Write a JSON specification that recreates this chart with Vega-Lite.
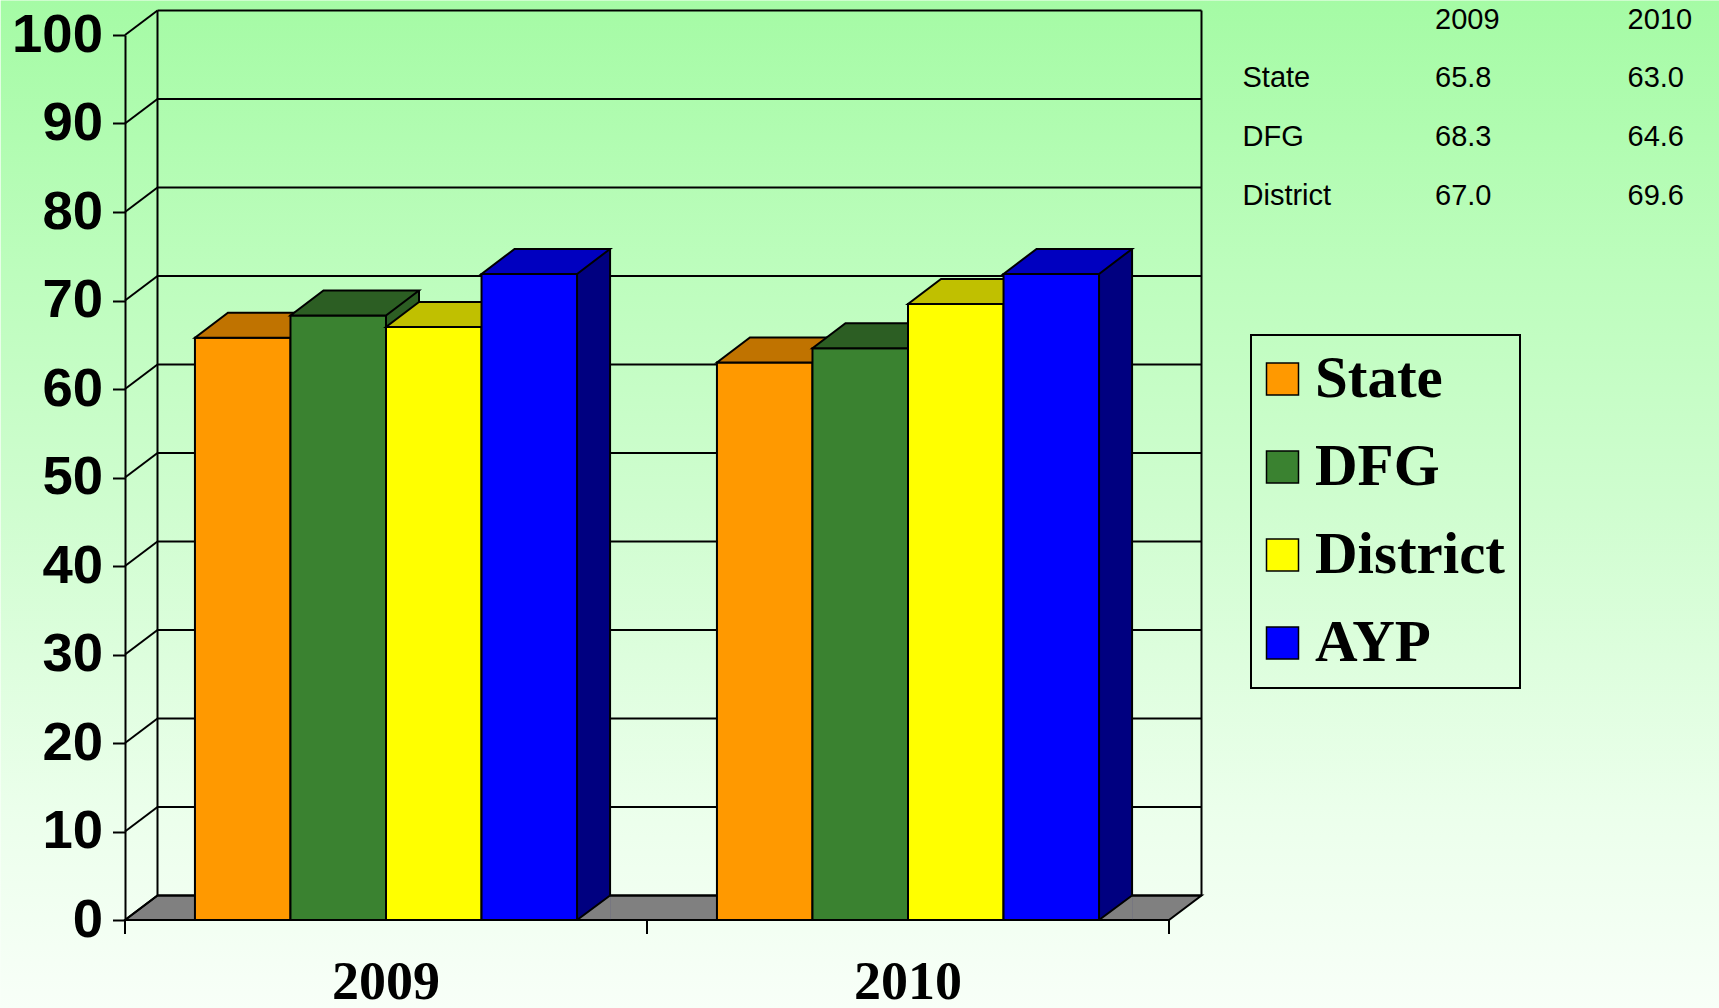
{
  "$schema": "https://vega.github.io/schema/vega-lite/v6.json",
  "padding": 0,
  "background": "#f8fff8",
  "bounds": "flush",
  "spacing": 73.5,
  "datasets": {
    "scores": [
      {"cat": "State", "year": "2009", "value": 65.8},
      {"cat": "State", "year": "2010", "value": 63.0},
      {"cat": "DFG", "year": "2009", "value": 68.3},
      {"cat": "DFG", "year": "2010", "value": 64.6},
      {"cat": "District", "year": "2009", "value": 67.0},
      {"cat": "District", "year": "2010", "value": 69.6},
      {"cat": "AYP", "year": "2009", "value": 73.0},
      {"cat": "AYP", "year": "2010", "value": 73.0}
    ],
    "ticks": [
      {"v": 0}, {"v": 10}, {"v": 20}, {"v": 30}, {"v": 40}, {"v": 50},
      {"v": 60}, {"v": 70}, {"v": 80}, {"v": 90}, {"v": 100}
    ]
  },
  "config": {
    "view": {"stroke": null},
    "axis": {"zindex": 1, "grid": false, "domainColor": "black", "domainWidth": 2, "tickColor": "black", "tickWidth": 2, "labelColor": "black"},
    "axisY": {"labelFont": "Liberation Sans", "labelFontSize": 54.5, "labelFontWeight": "bold", "tickSize": 12.5, "labelPadding": 10},
    "legend": {
      "orient": "none", "legendX": 1126, "legendY": 300, "zindex": 1,
      "symbolType": "square", "symbolSize": 1024, "symbolStrokeColor": "black", "symbolStrokeWidth": 1.5, "symbolOpacity": 1, "symbolOffset": -12.5,
      "labelFont": "Liberation Serif", "labelFontSize": 59, "labelFontWeight": "bold", "labelColor": "black", "labelOffset": 3, "labelLimit": 500,
      "rowPadding": 28, "padding": 14.5, "strokeColor": "black", "strokeWidth": 2
    }
  },
  "hconcat": [
    {
      "width": 1044,
      "height": 885,
      "resolve": {"scale": {"x": "independent"}, "axis": {"x": "independent"}},
      "layer": [
        {
          "layer": [
            {
              "data": {"values": [{}]},
              "mark": {"type": "rect", "strokeWidth": 0, "fill": {"gradient": "linear", "x1": 0, "y1": 0, "x2": 0, "y2": 1, "stops": [
                {"offset": 0, "color": "#A5FBA5"},
                {"offset": 0.27, "color": "#BDFDBD"},
                {"offset": 0.5, "color": "#CFFDCF"},
                {"offset": 0.8, "color": "#EBFFEB"},
                {"offset": 1, "color": "#F8FFF8"}
              ]}},
              "encoding": {
                "x": {"datum": -11.906, "type": "quantitative", "scale": {"domain": [0, 100], "nice": false}, "axis": null},
                "x2": {"datum": 152.75},
                "y": {"datum": 103.9, "type": "quantitative", "scale": {"domain": [0, 100], "nice": false}, "title": null, "axis": {"values": [0, 10, 20, 30, 40, 50, 60, 70, 80, 90, 100], "zindex": 1}},
                "y2": {"datum": -10}
              }
            },
            {
              "data": {"values": [{}]},
              "mark": {"type": "point", "shape": "M0,0L1044,0L1076.5,-24.5L32.5,-24.5Z", "size": 4, "filled": true, "fill": "#808080", "stroke": "black", "strokeWidth": 2, "opacity": 1},
              "encoding": {
                "x": {"datum": 0, "type": "quantitative", "scale": {"domain": [0, 100], "nice": false}, "axis": null},
                "y": {"datum": 0, "type": "quantitative", "scale": {"domain": [0, 100], "nice": false}, "title": null}
              }
            },
            {
              "data": {"name": "ticks"},
              "mark": {"type": "rule", "color": "black", "strokeWidth": 2, "xOffset": 32.5, "x2Offset": 32.5, "yOffset": -24.5},
              "encoding": {
                "x": {"datum": 0, "type": "quantitative", "scale": {"domain": [0, 100], "nice": false}, "axis": null},
                "x2": {"datum": 100},
                "y": {"field": "v", "type": "quantitative", "scale": {"domain": [0, 100], "nice": false}, "title": null}
              }
            },
            {
              "data": {"name": "ticks"},
              "mark": {"type": "rule", "color": "black", "strokeWidth": 2, "x2Offset": 32.5, "y2Offset": -24.5},
              "encoding": {
                "x": {"datum": 0, "type": "quantitative", "scale": {"domain": [0, 100], "nice": false}, "axis": null},
                "x2": {"datum": 0},
                "y": {"field": "v", "type": "quantitative", "scale": {"domain": [0, 100], "nice": false}, "title": null},
                "y2": {"field": "v"}
              }
            },
            {
              "data": {"name": "ticks"},
              "transform": [{"filter": "datum.v % 50 == 0"}],
              "mark": {"type": "rule", "color": "black", "strokeWidth": 2, "y2Offset": 14},
              "encoding": {
                "x": {"field": "v", "type": "quantitative", "scale": {"domain": [0, 100], "nice": false}, "axis": null},
                "y": {"datum": 0, "type": "quantitative", "scale": {"domain": [0, 100], "nice": false}, "title": null},
                "y2": {"datum": 0}
              }
            },
            {
              "data": {"values": [{}]},
              "mark": {"type": "rule", "color": "black", "strokeWidth": 2, "xOffset": 32.5, "yOffset": -24.5, "y2Offset": -24.5},
              "encoding": {
                "x": {"datum": 0, "type": "quantitative", "scale": {"domain": [0, 100], "nice": false}, "axis": null},
                "y": {"datum": 0, "type": "quantitative", "scale": {"domain": [0, 100], "nice": false}, "title": null},
                "y2": {"datum": 100}
              }
            },
            {
              "data": {"values": [{}]},
              "mark": {"type": "rule", "color": "black", "strokeWidth": 2, "xOffset": 32.5, "yOffset": -24.5, "y2Offset": -24.5},
              "encoding": {
                "x": {"datum": 100, "type": "quantitative", "scale": {"domain": [0, 100], "nice": false}, "axis": null},
                "y": {"datum": 0, "type": "quantitative", "scale": {"domain": [0, 100], "nice": false}, "title": null},
                "y2": {"datum": 100}
              }
            }
          ]
        },
        {
          "data": {"name": "scores"},
          "encoding": {
            "x": {"field": "year", "type": "nominal", "title": null, "sort": ["2009", "2010"],
              "scale": {"paddingInner": 0.268, "paddingOuter": 0.134},
              "axis": {"zindex": 1, "domain": false, "ticks": false, "labelAngle": 0, "labelFont": "Liberation Serif", "labelFontSize": 54, "labelFontWeight": "bold", "labelBaseline": "middle", "labelPadding": 62.5}},
            "y": {"field": "value", "type": "quantitative", "title": null, "scale": {"domain": [0, 100], "nice": false}}
          },
          "layer": [
            {
              "transform": [{"filter": "datum.cat == 'State'"}],
              "layer": [
                {"mark": {"type": "rule", "color": "#804C00", "strokeWidth": 33, "strokeCap": "butt", "xOffset": -79.02, "yOffset": -25}, "encoding": {"y2": {"datum": 0}}},
                {"mark": {"type": "rule", "color": "black", "strokeWidth": 2, "xOffset": -62.52, "yOffset": -25, "y2Offset": -25}, "encoding": {"y2": {"datum": 0}}},
                {"mark": {"type": "bar", "stroke": "black", "strokeWidth": 2}, "encoding": {
                  "xOffset": {"field": "cat", "type": "nominal", "scale": {"domain": ["State", "DFG", "District", "AYP"], "paddingInner": 0, "paddingOuter": 0}},
                  "color": {"field": "cat", "type": "nominal", "title": null, "scale": {"domain": ["State", "DFG", "District", "AYP"], "range": ["#FF9900", "#3A8230", "#FFFF00", "#0000FF"]}}}},
                {"mark": {"type": "point", "shape": "M-47.75,0L47.75,0L80.75,-25L-14.75,-25Z", "size": 4, "filled": true, "fill": "#C07300", "stroke": "black", "strokeWidth": 2, "opacity": 1}, "encoding": {
                  "xOffset": {"field": "cat", "type": "nominal", "scale": {"domain": ["State", "DFG", "District", "AYP"], "paddingInner": 0, "paddingOuter": 0}}}}
              ]
            },
            {
              "transform": [{"filter": "datum.cat == 'DFG'"}],
              "layer": [
                {"mark": {"type": "rule", "color": "#2C5E23", "strokeWidth": 33, "strokeCap": "butt", "xOffset": 16.5, "yOffset": -25}, "encoding": {"y2": {"datum": 0}}},
                {"mark": {"type": "rule", "color": "black", "strokeWidth": 2, "xOffset": 33, "yOffset": -25, "y2Offset": -25}, "encoding": {"y2": {"datum": 0}}},
                {"mark": {"type": "bar", "stroke": "black", "strokeWidth": 2}, "encoding": {
                  "xOffset": {"field": "cat", "type": "nominal", "scale": {"domain": ["State", "DFG", "District", "AYP"], "paddingInner": 0, "paddingOuter": 0}},
                  "color": {"field": "cat", "type": "nominal", "title": null, "scale": {"domain": ["State", "DFG", "District", "AYP"], "range": ["#FF9900", "#3A8230", "#FFFF00", "#0000FF"]}}}},
                {"mark": {"type": "point", "shape": "M-47.75,0L47.75,0L80.75,-25L-14.75,-25Z", "size": 4, "filled": true, "fill": "#2C5E23", "stroke": "black", "strokeWidth": 2, "opacity": 1}, "encoding": {
                  "xOffset": {"field": "cat", "type": "nominal", "scale": {"domain": ["State", "DFG", "District", "AYP"], "paddingInner": 0, "paddingOuter": 0}}}}
              ]
            },
            {
              "transform": [{"filter": "datum.cat == 'District'"}],
              "layer": [
                {"mark": {"type": "rule", "color": "#808000", "strokeWidth": 33, "strokeCap": "butt", "xOffset": 112.04, "yOffset": -25}, "encoding": {"y2": {"datum": 0}}},
                {"mark": {"type": "rule", "color": "black", "strokeWidth": 2, "xOffset": 128.54, "yOffset": -25, "y2Offset": -25}, "encoding": {"y2": {"datum": 0}}},
                {"mark": {"type": "bar", "stroke": "black", "strokeWidth": 2}, "encoding": {
                  "xOffset": {"field": "cat", "type": "nominal", "scale": {"domain": ["State", "DFG", "District", "AYP"], "paddingInner": 0, "paddingOuter": 0}},
                  "color": {"field": "cat", "type": "nominal", "title": null, "scale": {"domain": ["State", "DFG", "District", "AYP"], "range": ["#FF9900", "#3A8230", "#FFFF00", "#0000FF"]}}}},
                {"mark": {"type": "point", "shape": "M-47.75,0L47.75,0L80.75,-25L-14.75,-25Z", "size": 4, "filled": true, "fill": "#C0C000", "stroke": "black", "strokeWidth": 2, "opacity": 1}, "encoding": {
                  "xOffset": {"field": "cat", "type": "nominal", "scale": {"domain": ["State", "DFG", "District", "AYP"], "paddingInner": 0, "paddingOuter": 0}}}}
              ]
            },
            {
              "transform": [{"filter": "datum.cat == 'AYP'"}],
              "layer": [
                {"mark": {"type": "rule", "color": "#000080", "strokeWidth": 33, "strokeCap": "butt", "xOffset": 207.57, "yOffset": -25}, "encoding": {"y2": {"datum": 0}}},
                {"mark": {"type": "rule", "color": "black", "strokeWidth": 2, "xOffset": 224.07, "yOffset": -25, "y2Offset": -25}, "encoding": {"y2": {"datum": 0}}},
                {"mark": {"type": "point", "shape": "M80.75,0L47.75,0L80.75,-24.5", "size": 4, "filled": true, "fill": "#808080", "stroke": "black", "strokeWidth": 2, "opacity": 1}, "encoding": {
                  "xOffset": {"field": "cat", "type": "nominal", "scale": {"domain": ["State", "DFG", "District", "AYP"], "paddingInner": 0, "paddingOuter": 0}},
                  "y": {"datum": 0, "type": "quantitative", "scale": {"domain": [0, 100], "nice": false}, "title": null}}},
                {"mark": {"type": "bar", "stroke": "black", "strokeWidth": 2}, "encoding": {
                  "xOffset": {"field": "cat", "type": "nominal", "scale": {"domain": ["State", "DFG", "District", "AYP"], "paddingInner": 0, "paddingOuter": 0}},
                  "color": {"field": "cat", "type": "nominal", "title": null, "scale": {"domain": ["State", "DFG", "District", "AYP"], "range": ["#FF9900", "#3A8230", "#FFFF00", "#0000FF"]}}}},
                {"mark": {"type": "point", "shape": "M-47.75,0L47.75,0L80.75,-25L-14.75,-25Z", "size": 4, "filled": true, "fill": "#0000C0", "stroke": "black", "strokeWidth": 2, "opacity": 1}, "encoding": {
                  "xOffset": {"field": "cat", "type": "nominal", "scale": {"domain": ["State", "DFG", "District", "AYP"], "paddingInner": 0, "paddingOuter": 0}}}}
              ]
            }
          ]
        }
      ]
    },
    {
      "width": 385,
      "height": 176,
      "data": {"name": "scores"},
      "transform": [{"filter": "datum.cat != 'AYP'"}],
      "encoding": {
        "x": {"field": "year", "type": "nominal", "scale": {"type": "point", "domain": [" ", "2009", "2010"], "padding": 0}, "axis": null},
        "y": {"field": "cat", "type": "nominal", "scale": {"type": "point", "domain": ["_", "State", "DFG", "District"], "padding": 0}, "axis": null}
      },
      "layer": [
        {
          "mark": {"type": "text", "align": "left", "baseline": "middle", "font": "Liberation Sans", "fontSize": 29, "yOffset": -15.5, "color": "black"},
          "encoding": {"text": {"field": "value", "type": "quantitative", "format": ".1f"}}
        },
        {
          "transform": [{"filter": "datum.year == '2009'"}],
          "mark": {"type": "text", "align": "left", "baseline": "middle", "font": "Liberation Sans", "fontSize": 29, "yOffset": -15.5, "color": "black"},
          "encoding": {"x": {"datum": " ", "type": "nominal", "axis": null}, "text": {"field": "cat"}}
        },
        {
          "transform": [{"filter": "datum.cat == 'State'"}],
          "mark": {"type": "text", "align": "left", "baseline": "middle", "font": "Liberation Sans", "fontSize": 29, "yOffset": -15.5, "color": "black"},
          "encoding": {"y": {"datum": "_", "type": "nominal", "axis": null}, "text": {"field": "year"}}
        }
      ]
    }
  ]
}
